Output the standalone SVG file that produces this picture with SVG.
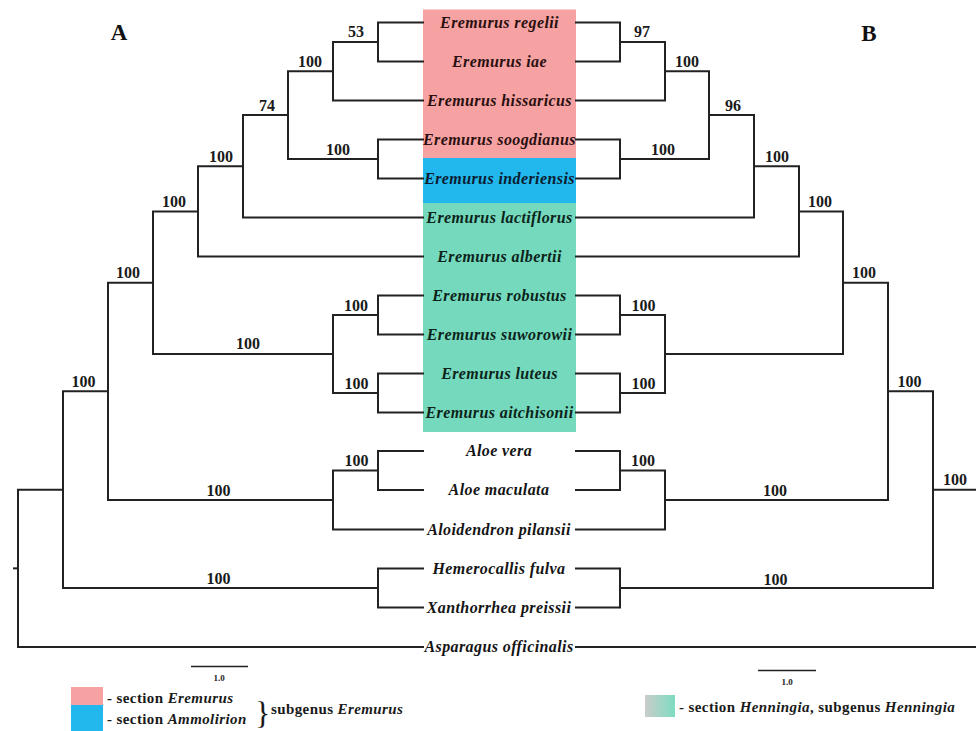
<svg xmlns="http://www.w3.org/2000/svg" width="976" height="731" viewBox="0 0 976 731">
<defs>
<style>
.edge{fill:none;stroke:#222;stroke-width:2;stroke-linecap:square}
.leaf{font-family:"Liberation Serif","Times New Roman",serif;font-size:16px;font-weight:bold;font-style:italic;text-anchor:middle;fill:#141414;letter-spacing:0.4px}
.bs{font-family:"Liberation Serif","Times New Roman",serif;font-size:16px;font-weight:bold;text-anchor:middle;fill:#1a1a1a}
.panel{font-family:"Liberation Serif","Times New Roman",serif;font-size:23px;font-weight:bold;text-anchor:middle;fill:#111}
.scale{font-family:"Liberation Serif","Times New Roman",serif;font-size:9px;font-weight:bold;text-anchor:middle;fill:#222}
.leg{font-family:"Liberation Serif","Times New Roman",serif;font-size:15px;font-weight:bold;fill:#1a1a1a;letter-spacing:0.4px}
.it{font-style:italic}
</style>
<linearGradient id="gHen" x1="0" y1="0" x2="1" y2="0">
<stop offset="0" stop-color="#c9cccb"/>
<stop offset="1" stop-color="#7edcc1"/>
</linearGradient>
</defs>
<rect width="976" height="731" fill="#ffffff"/>

<g id="sections">
<rect x="423" y="9.5" width="153" height="148.5" fill="#f6a2a2"/>
<rect x="423" y="158" width="153" height="45" fill="#22b8ee"/>
<rect x="423" y="203" width="153" height="229" fill="#74d9bd"/>
</g>

<g id="connectors">
<!-- tree A -->
<path class="edge" d="M423 22.5H378V61.5H423"/>
<path class="edge" d="M378 42H333V100.5H423"/>
<path class="edge" d="M423 139.5H378V178.5H423"/>
<path class="edge" d="M333 71.25H288V159H378"/>
<path class="edge" d="M288 115H243V217.5H423"/>
<path class="edge" d="M243 166.25H198V256.5H423"/>
<path class="edge" d="M423 295.5H378V334.5H423"/>
<path class="edge" d="M423 373.5H378V412.5H423"/>
<path class="edge" d="M378 315H333V393H378"/>
<path class="edge" d="M198 211.4H153V354H333"/>
<path class="edge" d="M423 451H378V490H423"/>
<path class="edge" d="M378 470.5H333V529.5H423"/>
<path class="edge" d="M153 282.7H108V500H333"/>
<path class="edge" d="M423 568.5H378V607.5H423"/>
<path class="edge" d="M108 391.35H63V588H378"/>
<path class="edge" d="M63 489.7H18V647H423"/>
<path class="edge" d="M14 568.35H18"/>
<!-- tree B -->
<path class="edge" d="M576 22.5H620V61.5H576"/>
<path class="edge" d="M620 42H665V100.5H576"/>
<path class="edge" d="M576 139.5H620V178.5H576"/>
<path class="edge" d="M665 71.25H709V159H620"/>
<path class="edge" d="M709 115H754V217.5H576"/>
<path class="edge" d="M754 166.25H799V256.5H576"/>
<path class="edge" d="M576 295.5H620V334.5H576"/>
<path class="edge" d="M576 373.5H620V412.5H576"/>
<path class="edge" d="M620 315H665V393H620"/>
<path class="edge" d="M799 211.4H843V354H665"/>
<path class="edge" d="M576 451H620V490H576"/>
<path class="edge" d="M620 470.5H665V529.5H576"/>
<path class="edge" d="M843 282.7H888V500H665"/>
<path class="edge" d="M576 568.5H620V607.5H576"/>
<path class="edge" d="M888 391.35H933V588H620"/>
<path class="edge" d="M933 489.7H978"/>
<path class="edge" d="M576 647H978"/>
</g>

<g id="support-A">
<text class="bs" x="356" y="37">53</text>
<text class="bs" x="310" y="67">100</text>
<text class="bs" x="267" y="110.5">74</text>
<text class="bs" x="338" y="155">100</text>
<text class="bs" x="221" y="162">100</text>
<text class="bs" x="174" y="207">100</text>
<text class="bs" x="128" y="278">100</text>
<text class="bs" x="248" y="349">100</text>
<text class="bs" x="356" y="310.5">100</text>
<text class="bs" x="356.5" y="388.5">100</text>
<text class="bs" x="83.5" y="387">100</text>
<text class="bs" x="356.5" y="466">100</text>
<text class="bs" x="218.5" y="495.5">100</text>
<text class="bs" x="218.5" y="583.5">100</text>
</g>

<g id="support-B">
<text class="bs" x="642" y="37">97</text>
<text class="bs" x="687" y="67">100</text>
<text class="bs" x="733" y="110.5">96</text>
<text class="bs" x="663" y="155">100</text>
<text class="bs" x="777" y="162">100</text>
<text class="bs" x="820" y="207">100</text>
<text class="bs" x="864" y="278">100</text>
<text class="bs" x="643.5" y="310.5">100</text>
<text class="bs" x="643.5" y="388.5">100</text>
<text class="bs" x="909.5" y="387">100</text>
<text class="bs" x="643" y="466">100</text>
<text class="bs" x="775" y="496">100</text>
<text class="bs" x="955" y="485">100</text>
<text class="bs" x="775.5" y="584.5">100</text>
</g>

<g id="leaf-regelii"><text class="leaf" x="499.5" y="27.5" style="fill:#2a1010">Eremurus regelii</text></g>
<g id="leaf-iae"><text class="leaf" x="499.5" y="66.5" style="fill:#2a1010">Eremurus iae</text></g>
<g id="leaf-hissaricus"><text class="leaf" x="499.5" y="105.5" style="fill:#2a1010">Eremurus hissaricus</text></g>
<g id="leaf-soogdianus"><text class="leaf" x="499.5" y="144.5" style="fill:#2a1010">Eremurus soogdianus</text></g>
<g id="leaf-inderiensis"><text class="leaf" x="499.5" y="183.5" style="fill:#0c1c30">Eremurus inderiensis</text></g>
<g id="leaf-lactiflorus"><text class="leaf" x="499.5" y="222.5" style="fill:#0c2419">Eremurus lactiflorus</text></g>
<g id="leaf-albertii"><text class="leaf" x="499.5" y="261.5" style="fill:#0c2419">Eremurus albertii</text></g>
<g id="leaf-robustus"><text class="leaf" x="499.5" y="300.5" style="fill:#0c2419">Eremurus robustus</text></g>
<g id="leaf-suworowii"><text class="leaf" x="499.5" y="339.5" style="fill:#0c2419">Eremurus suworowii</text></g>
<g id="leaf-luteus"><text class="leaf" x="499.5" y="378.5" style="fill:#0c2419">Eremurus luteus</text></g>
<g id="leaf-aitchisonii"><text class="leaf" x="499.5" y="417.5" style="fill:#0c2419">Eremurus aitchisonii</text></g>
<g id="leaf-aloe-vera"><text class="leaf" x="499" y="456">Aloe vera</text></g>
<g id="leaf-aloe-maculata"><text class="leaf" x="499" y="495">Aloe maculata</text></g>
<g id="leaf-aloidendron"><text class="leaf" x="499" y="534.5">Aloidendron pilansii</text></g>
<g id="leaf-hemerocallis"><text class="leaf" x="499" y="573.5">Hemerocallis fulva</text></g>
<g id="leaf-xanthorrhea"><text class="leaf" x="499" y="612.5">Xanthorrhea preissii</text></g>
<g id="leaf-asparagus"><text class="leaf" x="499" y="652">Asparagus officinalis</text></g>

<g id="panel-A"><text class="panel" x="119" y="40">A</text></g>
<g id="panel-B"><text class="panel" x="869" y="40.5">B</text></g>

<g id="scalebar-A">
<path class="edge" d="M191 666.5H248" style="stroke-width:1.5;stroke-linecap:butt"/>
<text class="scale" x="219" y="681">1.0</text>
</g>
<g id="scalebar-B">
<path class="edge" d="M758 670.5H816" style="stroke-width:1.5;stroke-linecap:butt"/>
<text class="scale" x="787" y="685">1.0</text>
</g>

<g id="legend-A">
<rect x="71" y="687" width="32" height="18" fill="#f6a2a2"/>
<rect x="71" y="705" width="32" height="26" fill="#22b8ee"/>
<text class="leg" x="107" y="703">- section <tspan class="it">Eremurus</tspan></text>
<text class="leg" x="107" y="723.5">- section <tspan class="it">Ammolirion</tspan></text>
<text class="leg" x="255" y="724" style="font-size:32px;font-weight:normal;letter-spacing:0">}</text>
<text class="leg" x="271" y="714">subgenus <tspan class="it">Eremurus</tspan></text>
</g>
<g id="legend-B">
<rect x="645" y="695" width="30" height="22" fill="url(#gHen)"/>
<text class="leg" x="679" y="712">- section <tspan class="it">Henningia</tspan>, subgenus <tspan class="it">Henningia</tspan></text>
</g>
</svg>
